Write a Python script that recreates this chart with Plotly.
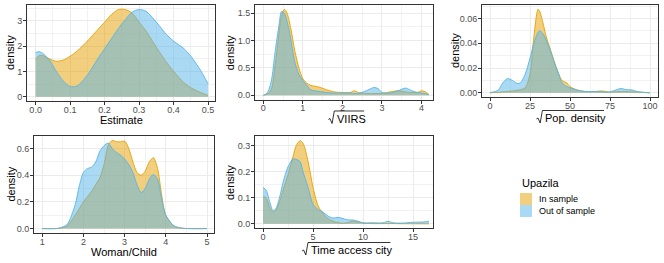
import plotly.graph_objects as go

# ---------------- data ----------------
est_x = [0, 0.01, 0.02, 0.04, 0.06, 0.08, 0.1, 0.12, 0.15, 0.18, 0.2, 0.22, 0.24, 0.26, 0.28, 0.3, 0.32, 0.35, 0.38, 0.4, 0.43, 0.45, 0.48, 0.5]
est_in = [1.5, 1.62, 1.63, 1.5, 1.4, 1.45, 1.6, 1.8, 2.2, 2.65, 2.95, 3.25, 3.45, 3.45, 3.3, 2.95, 2.6, 1.95, 1.35, 1.0, 0.55, 0.35, 0.15, 0.05]
est_out = [1.75, 1.78, 1.72, 1.45, 1.0, 0.62, 0.4, 0.42, 0.85, 1.5, 1.9, 2.3, 2.7, 3.05, 3.35, 3.45, 3.38, 2.95, 2.45, 2.2, 1.9, 1.6, 1.0, 0.5]

viirs_x = [0, 0.1, 0.2, 0.3, 0.4, 0.46, 0.53, 0.6, 0.7, 0.8, 0.9, 1.0, 1.1, 1.2, 1.4, 1.6, 1.8, 2.0, 2.2, 2.3, 2.4, 2.6, 2.8, 2.9, 3.0, 3.2, 3.4, 3.6, 3.7, 3.8, 3.9, 4.0, 4.1, 4.19]
viirs_in = [0.0, 0.02, 0.1, 0.55, 1.15, 1.45, 1.57, 1.5, 1.2, 0.8, 0.5, 0.3, 0.22, 0.18, 0.15, 0.1, 0.06, 0.05, 0.05, 0.08, 0.05, 0.03, 0.03, 0.03, 0.03, 0.06, 0.08, 0.06, 0.05, 0.05, 0.05, 0.08, 0.06, 0.01]
viirs_out = [0.0, 0.04, 0.25, 0.8, 1.3, 1.53, 1.5, 1.35, 1.0, 0.6, 0.38, 0.27, 0.18, 0.1, 0.07, 0.05, 0.04, 0.04, 0.04, 0.03, 0.03, 0.08, 0.14, 0.12, 0.05, 0.04, 0.08, 0.13, 0.1, 0.07, 0.05, 0.04, 0.03, 0.01]

pop_x = [0, 5, 8, 11, 14, 17, 19, 22, 25, 27, 29, 30, 31, 33, 35, 38, 40, 43, 45, 48, 50, 55, 60, 65, 70, 75, 78, 82, 85, 88, 92, 95, 100]
pop_in = [0.0, 0.0003, 0.0008, 0.001, 0.0015, 0.002, 0.0025, 0.004, 0.015, 0.04, 0.062, 0.0675, 0.066, 0.057, 0.046, 0.034, 0.026, 0.015, 0.01, 0.008, 0.005, 0.002, 0.001, 0.001, 0.0015, 0.0005, 0.0008, 0.001, 0.001, 0.0008, 0.0006, 0.0003, 0.0]
pop_out = [0.0001, 0.002, 0.008, 0.0115, 0.01, 0.0075, 0.008, 0.015, 0.028, 0.038, 0.046, 0.049, 0.050, 0.048, 0.043, 0.033, 0.025, 0.015, 0.008, 0.005, 0.004, 0.002, 0.001, 0.001, 0.0008, 0.0007, 0.002, 0.0035, 0.0025, 0.0025, 0.001, 0.0005, 0.0]

wc_x = [1.0, 1.4, 1.6, 1.8, 1.9, 2.0, 2.1, 2.2, 2.3, 2.4, 2.5, 2.6, 2.7, 2.8, 2.9, 3.0, 3.1, 3.2, 3.3, 3.4, 3.5, 3.6, 3.7, 3.8, 3.9, 4.0, 4.2, 4.4, 5.0]
wc_in = [0.0, 0.002, 0.02, 0.1, 0.15, 0.2, 0.24, 0.28, 0.33, 0.38, 0.48, 0.62, 0.66, 0.65, 0.65, 0.655, 0.6, 0.5, 0.42, 0.40, 0.43, 0.5, 0.53, 0.45, 0.25, 0.1, 0.02, 0.003, 0.0]
wc_out = [0.0, 0.003, 0.03, 0.18, 0.32, 0.42, 0.45, 0.46, 0.5, 0.58, 0.62, 0.64, 0.6, 0.57, 0.55, 0.52, 0.48, 0.42, 0.33, 0.27, 0.3, 0.37, 0.405, 0.37, 0.22, 0.1, 0.02, 0.003, 0.0]

time_x = [0, 0.3, 0.7, 1.0, 1.3, 1.7, 2.0, 2.5, 3.0, 3.3, 3.7, 4.0, 4.5, 5.0, 5.5, 6.0, 6.5, 7.0, 7.5, 8.0, 8.5, 9.0, 9.5, 10, 11, 12, 12.5, 13, 14, 15, 16, 16.6]
time_in = [0.105, 0.1, 0.06, 0.045, 0.055, 0.09, 0.13, 0.19, 0.26, 0.30, 0.32, 0.31, 0.24, 0.14, 0.07, 0.04, 0.02, 0.01, 0.005, 0.002, 0.005, 0.01, 0.008, 0.003, 0.001, 0.001, 0.001, 0.001, 0.0005, 0.0003, 0.0002, 0.0]
time_out = [0.14, 0.13, 0.08, 0.05, 0.06, 0.11, 0.16, 0.22, 0.25, 0.248, 0.24, 0.2, 0.14, 0.075, 0.055, 0.045, 0.03, 0.022, 0.025, 0.02, 0.015, 0.015, 0.01, 0.004, 0.004, 0.004, 0.01, 0.004, 0.003, 0.006, 0.007, 0.01]

groups = ["In sample", "Out of sample"]
line_cols = ["#E69F00", "#56B4E9"]
fill_cols = ["rgba(230,159,0,0.5)", "rgba(86,180,233,0.5)"]

W, H = 664, 263
def px(x): return x / W
def py(y): return 1 - y / H

# Arial / Liberation Sans advance widths (1/1000 em) for title layout
ARIAL = {"V": 667, "I": 278, "R": 722, "S": 667, "P": 667, "o": 556, "p": 556, ".": 278, " ": 278,
         "d": 556, "e": 556, "n": 556, "s": 500, "i": 222, "t": 278, "y": 500, "T": 611, "m": 833,
         "a": 556, "c": 500}
def text_w(s, size):
    return sum(ARIAL.get(ch, 556) for ch in s) * size / 1000.0

# panel boxes in pixels: (left, right, top, bottom)
panels = [
    dict(x=est_x, ys=[est_in, est_out], box=(27, 215, 5, 101), xr=[-0.025, 0.52], yr=[-0.173, 3.63],
         xd=0.1, yd=1, xf=".1f", yf="d", title="Estimate", sqrt=False, tx=121, ty=120, dx=10),
    dict(x=viirs_x, ys=[viirs_in, viirs_out], box=(255, 433, 5, 99.5), xr=[-0.21, 4.29], yr=[-0.079, 1.65],
         xd=1, yd=0.5, xf="d", yf=".1f", title="VIIRS", sqrt=True, tx=346, ty=118.5, dx=230),
    dict(x=pop_x, ys=[pop_in, pop_out], box=(482, 658, 5, 97), xr=[-5, 105], yr=[-0.0034, 0.0709],
         xd=25, yd=0.02, xf="d", yf=".2f", title="Pop. density", sqrt=True, tx=570, ty=118, dx=455),
    dict(x=wc_x, ys=[wc_in, wc_out], box=(34, 214, 136, 233), xr=[0.8, 5.17], yr=[-0.033, 0.693],
         xd=1, yd=0.2, xf="d", yf=".1f", title="Woman/Child", sqrt=False, tx=124, ty=252, dx=10),
    dict(x=time_x, ys=[time_in, time_out], box=(255, 433, 136, 228), xr=[-0.81, 17.0], yr=[-0.016, 0.338],
         xd=5, yd=0.1, xf="d", yf=".1f", title="Time access city", sqrt=True, tx=346, ty=250, dx=230),
]

fig = go.Figure()
annotations = []
shapes = []
FONT = "Liberation Sans, Arial, sans-serif"
tickfont = dict(family=FONT, size=9, color="#4D4D4D")
titlefont = dict(family=FONT, size=11, color="#000000")

for i, p in enumerate(panels):
    n = i + 1
    xa = "x" if n == 1 else f"x{n}"
    ya = "y" if n == 1 else f"y{n}"
    for g in range(2):
        fig.add_trace(go.Scatter(
            x=p["x"], y=p["ys"][g], xaxis=xa, yaxis=ya, mode="lines",
            line=dict(color=line_cols[g], width=0.9, shape="spline", smoothing=0.8),
            fill="tozeroy", fillcolor=fill_cols[g], name=groups[g], showlegend=False,
            hoverinfo="skip"))
    l, r, t, b = p["box"]
    common = dict(showline=True, mirror=True, linecolor="#333333", linewidth=1,
                  showgrid=True, gridcolor="#EBEBEB", gridwidth=1, zeroline=False,
                  ticks="outside", ticklen=3, tickcolor="#333333", tickwidth=1,
                  tickfont=tickfont)
    fig.layout[("xaxis" if n == 1 else f"xaxis{n}")] = dict(
        domain=[px(l), px(r)], anchor=ya, range=p["xr"], tick0=0, dtick=p["xd"],
        tickformat=p["xf"], ticklabelstandoff=-3,
        minor=dict(dtick=p["xd"] / 2, showgrid=True, gridcolor="#F2F2F2", gridwidth=0.6),
        **common)
    fig.layout[("yaxis" if n == 1 else f"yaxis{n}")] = dict(
        domain=[py(b), py(t)], anchor=xa, range=p["yr"], tick0=0, dtick=p["yd"],
        tickformat=p["yf"], ticklabelstandoff=-1,
        minor=dict(dtick=p["yd"] / 2, showgrid=True, gridcolor="#F2F2F2", gridwidth=0.6),
        **common)
    if p["sqrt"]:
        tw = text_w(p["title"], 11)
        rad = 6.5
        xs = p["tx"] - (tw + rad) / 2 + rad
        annotations.append(dict(text=p["title"], x=px(xs), y=py(p["ty"]), xref="paper", yref="paper",
                                showarrow=False, font=titlefont, xanchor="left", yanchor="middle"))
        ytop = p["ty"] - 7.5
        ybot = p["ty"] + 5
        ymid = p["ty"] + 0.5
        pts = [(xs - 6.5, ymid + 0.5), (xs - 5, ymid - 0.5), (xs - 2.8, ybot), (xs - 0.6, ytop), (xs + tw + 0.5, ytop)]
        path = "M " + " L ".join(f"{px(a):.5f},{py(c):.5f}" for a, c in pts)
        shapes.append(dict(type="path", xref="paper", yref="paper", path=path,
                           line=dict(color="#000000", width=0.8)))
    else:
        annotations.append(dict(text=p["title"], x=px(p["tx"]), y=py(p["ty"]), xref="paper", yref="paper",
                                showarrow=False, font=titlefont, xanchor="center", yanchor="middle"))
    annotations.append(dict(text="density", x=px(p["dx"]), y=py((t + b) / 2), xref="paper", yref="paper",
                            showarrow=False, font=titlefont, textangle=-90, xanchor="center", yanchor="middle"))

# legend
annotations.append(dict(text="Upazila", x=px(520), y=py(183), xref="paper", yref="paper", showarrow=False,
                        font=titlefont, xanchor="left", yanchor="middle"))
for g in range(2):
    y0 = 193 + 12 * g
    shapes.append(dict(type="rect", xref="paper", yref="paper", x0=px(520), x1=px(532), y0=py(y0 + 12), y1=py(y0),
                       fillcolor=fill_cols[g], line=dict(width=0)))
    annotations.append(dict(text=groups[g], x=px(537), y=py(y0 + 6), xref="paper", yref="paper", showarrow=False,
                            font=dict(family=FONT, size=9, color="#000000"),
                            xanchor="left", yanchor="middle"))

fig.update_layout(width=W, height=H, margin=dict(l=0, r=0, t=0, b=0),
                  paper_bgcolor="white", plot_bgcolor="white", showlegend=False,
                  annotations=annotations, shapes=shapes)
fig.write_html("out.html", config={"displayModeBar": False},
               post_script="document.body.style.margin='0';document.body.style.overflow='hidden';")
